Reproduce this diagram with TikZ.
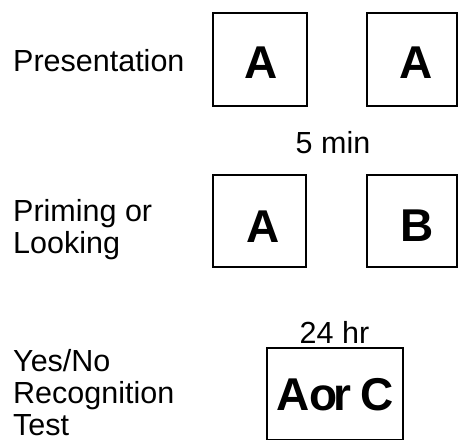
\documentclass[tikz,border=0pt]{standalone}
\usepackage{fontspec}
\setmainfont{Liberation Sans}
\begin{document}
\begin{tikzpicture}[x=1pt,y=-1pt,
  label/.style={anchor=base west,inner sep=0pt,text depth=0pt,font=\fontsize{30.5}{33}\selectfont},
  gap/.style={anchor=base,inner sep=0pt,font=\fontsize{30.5}{33}\selectfont},
  frame/.style={draw,line width=1.7pt,inner sep=0pt},
  stim/.style={anchor=base,inner sep=0pt,font=\fontsize{46}{50}\selectfont\bfseries}]
\useasboundingbox (0,0) rectangle (458,441);
% phase labels
\node[label] (pres) at (13,72) {Presentation};
\node[label] (prim1) at (13,221) {Priming or};
\node[label] (prim2) at (13,253) {Looking};
\node[label] (test1) at (13,371) {Yes/No};
\node[label] (test2) at (13,403.5) {Recognition};
\node[label] (test3) at (13,435.5) {Test};
% delays
\node[gap] (d1) at (333,154) {5 min};
\node[gap] (d2) at (334.5,343) {24 hr};
% presentation trials
\draw[frame] (213,13) rectangle (307,106);
\draw[frame] (367,13) rectangle (457,106);
\node[stim] (pa) at (261.5,79) {A};
\node[stim] (pb) at (416.5,79) {A};
% priming trials
\draw[frame] (213,175) rectangle (306,267);
\draw[frame] (367,175) rectangle (457,267);
\node[stim] (qa) at (263,242) {A};
\node[stim] (qb) at (417,241) {B};
% test trial
\draw[frame] (267,348) rectangle (403,439.5);
\node[stim] (ta) at (335.5,410) {A\kern-1pt o\kern-4pt r\kern-3pt\ C};
\end{tikzpicture}
\end{document}
